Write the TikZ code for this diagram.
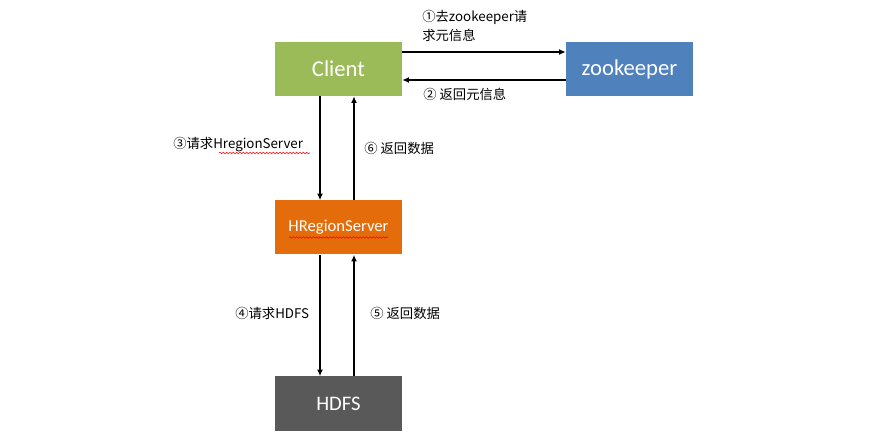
\documentclass[tikz,border=0pt]{standalone}
\usepackage{fontspec}
\setmainfont{Carlito}
\newfontfamily\cjk{Noto Sans CJK SC}
\usetikzlibrary{arrows.meta,calc,decorations.pathmorphing}
\definecolor{clientgreen}{HTML}{9BBB59}
\definecolor{zkblue}{HTML}{4F81BD}
\definecolor{hrsorange}{HTML}{E46C0A}
\definecolor{hdfsgray}{HTML}{595959}
\begin{document}
\begin{tikzpicture}[x=0.75pt,y=-0.75pt,
  box/.style={minimum width=95.25pt,minimum height=40.5pt,inner sep=0pt,text=white},
  flow/.style={line width=1.4pt,-{Latex[length=5pt,width=4.5pt]}},
  lbl/.style={font=\cjk\fontsize{10}{14.25}\selectfont,anchor=west,inner sep=0pt,align=left},
  squiggle/.style={red,line width=0.4pt,decorate,decoration={snake,amplitude=0.6pt,segment length=2.5pt}}]
  \useasboundingbox (0,0) rectangle (885,441);

  \node[box,fill=clientgreen,font=\fontsize{17}{20}\selectfont] (client) at (338.5,69) {Client};
  \node[box,fill=zkblue,font=\fontsize{17}{20}\selectfont] (zk) at (629.5,69) {zookeeper};
  \node[box,fill=hrsorange,font=\fontsize{12.5}{15}\selectfont] (hrs) at (338.5,227.5) {HRegionServer};
  \node[box,fill=hdfsgray,font=\fontsize{15.5}{18}\selectfont] (hdfs) at (338.5,403.5) {HDFS};

  \draw[flow] ($(client.east)+(0,-17)$) -- ($(zk.west)+(0,-17)$);
  \draw[flow] ($(zk.west)+(0,11)$) -- ($(client.east)+(0,11)$);
  \draw[flow] ($(client.south)+(-18.5,0)$) -- ($(hrs.north)+(-18.5,0)$);
  \draw[flow] ($(hrs.north)+(15.5,0)$) -- ($(client.south)+(15.5,0)$);
  \draw[flow] ($(hrs.south)+(-18.5,0)$) -- ($(hdfs.north)+(-18.5,0)$);
  \draw[flow] ($(hdfs.north)+(15.5,0)$) -- ($(hrs.south)+(15.5,0)$);

  \node[lbl] (l1) at (422,25.5) {①去zookeeper请\\求元信息};
  \node[lbl] (l2) at (423,94) {② 返回元信息};
  \node[lbl] (l3) at (173,145) {③请求HregionServer};
  \node[lbl] (l6) at (364,148) {⑥ 返回数据};
  \node[lbl] (l4) at (235,313) {④请求HDFS};
  \node[lbl] (l5) at (370,313) {⑤ 返回数据};

  \draw[squiggle] (219,153) -- (310,153);
  \draw[squiggle] (289,237.5) -- (388,237.5);
\end{tikzpicture}
\end{document}
